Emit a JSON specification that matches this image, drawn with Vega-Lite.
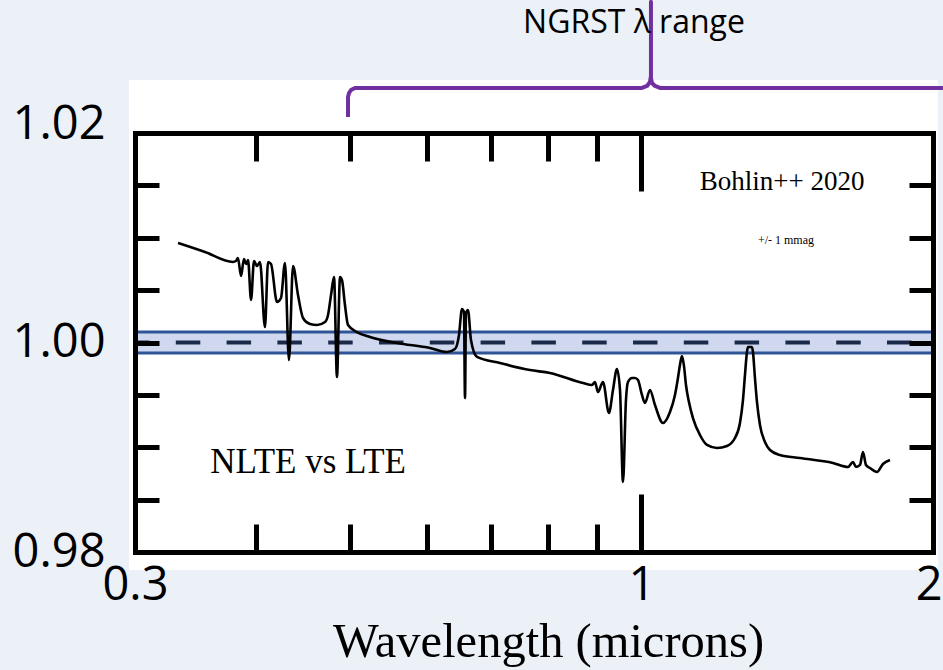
{
  "$schema": "https://vega.github.io/schema/vega-lite/v6.json",
  "width": 798,
  "height": 419,
  "autosize": {"type": "none"},
  "padding": {"left": 135, "top": 133, "right": 10, "bottom": 118},
  "background": "#ECF0F7",
  "config": {"view": {"stroke": null}},
  "datasets": {
    "spectrum": [
      {"wavelength": 0.3323, "ratio": 1.0095},
      {"wavelength": 0.3543, "ratio": 1.00864},
      {"wavelength": 0.3787, "ratio": 1.00769},
      {"wavelength": 0.3814, "ratio": 1.00778},
      {"wavelength": 0.3832, "ratio": 1.00807},
      {"wavelength": 0.386, "ratio": 1.00635},
      {"wavelength": 0.3887, "ratio": 1.00797},
      {"wavelength": 0.3906, "ratio": 1.00749},
      {"wavelength": 0.3925, "ratio": 1.00788},
      {"wavelength": 0.3953, "ratio": 1.00406},
      {"wavelength": 0.3981, "ratio": 1.00778},
      {"wavelength": 0.4009, "ratio": 1.0073},
      {"wavelength": 0.4038, "ratio": 1.00769},
      {"wavelength": 0.4086, "ratio": 1.00148},
      {"wavelength": 0.4116, "ratio": 1.00769},
      {"wavelength": 0.4145, "ratio": 1.00749},
      {"wavelength": 0.4205, "ratio": 1.00387},
      {"wavelength": 0.4245, "ratio": 1.00425},
      {"wavelength": 0.4285, "ratio": 1.00759},
      {"wavelength": 0.4326, "ratio": 0.99833},
      {"wavelength": 0.4368, "ratio": 1.0073},
      {"wavelength": 0.442, "ratio": 1.00453},
      {"wavelength": 0.4473, "ratio": 1.00234},
      {"wavelength": 0.4548, "ratio": 1.00177},
      {"wavelength": 0.4624, "ratio": 1.00167},
      {"wavelength": 0.4713, "ratio": 1.00196},
      {"wavelength": 0.4747, "ratio": 1.00263},
      {"wavelength": 0.4781, "ratio": 1.00453},
      {"wavelength": 0.4815, "ratio": 1.00625},
      {"wavelength": 0.4849, "ratio": 0.99671},
      {"wavelength": 0.4884, "ratio": 1.00625},
      {"wavelength": 0.4907, "ratio": 1.00597},
      {"wavelength": 0.4942, "ratio": 1.00358},
      {"wavelength": 0.4978, "ratio": 1.00167},
      {"wavelength": 0.5085, "ratio": 1.001},
      {"wavelength": 0.5245, "ratio": 1.00053},
      {"wavelength": 0.5593, "ratio": 0.99995},
      {"wavelength": 0.6049, "ratio": 0.99948},
      {"wavelength": 0.6298, "ratio": 0.99909},
      {"wavelength": 0.6419, "ratio": 0.99938},
      {"wavelength": 0.645, "ratio": 0.99976},
      {"wavelength": 0.6481, "ratio": 1.00072},
      {"wavelength": 0.6527, "ratio": 1.0032},
      {"wavelength": 0.6558, "ratio": 1.00291},
      {"wavelength": 0.6574, "ratio": 0.9947},
      {"wavelength": 0.659, "ratio": 1.00282},
      {"wavelength": 0.6621, "ratio": 1.0031},
      {"wavelength": 0.6668, "ratio": 1.00024},
      {"wavelength": 0.6764, "ratio": 0.99862},
      {"wavelength": 0.7144, "ratio": 0.99804},
      {"wavelength": 0.7672, "ratio": 0.99737},
      {"wavelength": 0.8046, "ratio": 0.99709},
      {"wavelength": 0.8703, "ratio": 0.99613},
      {"wavelength": 0.8891, "ratio": 0.99594},
      {"wavelength": 0.8954, "ratio": 0.99623},
      {"wavelength": 0.9018, "ratio": 0.99527},
      {"wavelength": 0.9126, "ratio": 0.99623},
      {"wavelength": 0.9257, "ratio": 0.99327},
      {"wavelength": 0.9346, "ratio": 0.99547},
      {"wavelength": 0.9435, "ratio": 0.99747},
      {"wavelength": 0.9503, "ratio": 0.99547},
      {"wavelength": 0.9571, "ratio": 0.98668},
      {"wavelength": 0.9639, "ratio": 0.99451},
      {"wavelength": 0.9685, "ratio": 0.99623},
      {"wavelength": 0.9778, "ratio": 0.99661},
      {"wavelength": 0.9848, "ratio": 0.99661},
      {"wavelength": 0.9918, "ratio": 0.99642},
      {"wavelength": 1.0013, "ratio": 0.99499},
      {"wavelength": 1.0084, "ratio": 0.99422},
      {"wavelength": 1.0205, "ratio": 0.99547},
      {"wavelength": 1.0327, "ratio": 0.99403},
      {"wavelength": 1.0525, "ratio": 0.99232},
      {"wavelength": 1.0702, "ratio": 0.99337},
      {"wavelength": 1.083, "ratio": 0.99499},
      {"wavelength": 1.0907, "ratio": 0.99661},
      {"wavelength": 1.0959, "ratio": 0.99785},
      {"wavelength": 1.1012, "ratio": 0.99871},
      {"wavelength": 1.1064, "ratio": 0.99777},
      {"wavelength": 1.1117, "ratio": 0.99594},
      {"wavelength": 1.1196, "ratio": 0.99432},
      {"wavelength": 1.1303, "ratio": 0.99279},
      {"wavelength": 1.1493, "ratio": 0.99117},
      {"wavelength": 1.1686, "ratio": 0.99022},
      {"wavelength": 1.1967, "ratio": 0.98993},
      {"wavelength": 1.2255, "ratio": 0.99012},
      {"wavelength": 1.249, "ratio": 0.99088},
      {"wavelength": 1.2639, "ratio": 0.99232},
      {"wavelength": 1.273, "ratio": 0.99451},
      {"wavelength": 1.2791, "ratio": 0.9969},
      {"wavelength": 1.2851, "ratio": 0.99909},
      {"wavelength": 1.2882, "ratio": 0.99957},
      {"wavelength": 1.3005, "ratio": 0.99957},
      {"wavelength": 1.3036, "ratio": 0.99909},
      {"wavelength": 1.3098, "ratio": 0.99661},
      {"wavelength": 1.3161, "ratio": 0.99432},
      {"wavelength": 1.3255, "ratio": 0.99212},
      {"wavelength": 1.3413, "ratio": 0.9905},
      {"wavelength": 1.3574, "ratio": 0.98974},
      {"wavelength": 1.39, "ratio": 0.98926},
      {"wavelength": 1.4577, "ratio": 0.98897},
      {"wavelength": 1.5767, "ratio": 0.9885},
      {"wavelength": 1.634, "ratio": 0.98812},
      {"wavelength": 1.6535, "ratio": 0.98859},
      {"wavelength": 1.6654, "ratio": 0.98812},
      {"wavelength": 1.6813, "ratio": 0.98831},
      {"wavelength": 1.6933, "ratio": 0.98955},
      {"wavelength": 1.7054, "ratio": 0.98831},
      {"wavelength": 1.7217, "ratio": 0.98802},
      {"wavelength": 1.7506, "ratio": 0.98764},
      {"wavelength": 1.7758, "ratio": 0.9884},
      {"wavelength": 1.8056, "ratio": 0.98878}
    ],
    "bracket": [
      {"step": 1, "wavelength": 0.4978, "level": 1.02153},
      {"step": 2, "wavelength": 0.4978, "level": 1.02344},
      {"step": 3, "wavelength": 0.499, "level": 1.02382},
      {"step": 4, "wavelength": 0.5013, "level": 1.0241},
      {"step": 5, "wavelength": 0.5061, "level": 1.0243},
      {"step": 6, "wavelength": 1.0013, "level": 1.0243},
      {"step": 7, "wavelength": 1.0133, "level": 1.02449},
      {"step": 8, "wavelength": 1.0205, "level": 1.02487},
      {"step": 9, "wavelength": 1.0229, "level": 1.02544},
      {"step": 10, "wavelength": 1.0229, "level": 1.03251},
      {"step": 11, "wavelength": 1.0229, "level": 1.02525},
      {"step": 12, "wavelength": 1.0254, "level": 1.02477},
      {"step": 13, "wavelength": 1.0327, "level": 1.02449},
      {"step": 14, "wavelength": 1.0449, "level": 1.0243},
      {"step": 15, "wavelength": 2.0479, "level": 1.0243}
    ]
  },
  "layer": [
    {
      "data": {"values": [{}]},
      "mark": {"type": "rect", "fill": "white"},
      "encoding": {
        "x": {"datum": 0.2957, "type": "quantitative", "scale": {"type": "log", "domain": [0.3, 2]}, "axis": null},
        "x2": {"datum": 2.0236},
        "y": {"datum": 0.97828, "type": "quantitative", "scale": {"domain": [0.98, 1.02], "zero": false, "nice": false}, "axis": null},
        "y2": {"datum": 1.02506}
      }
    },
    {
      "data": {"values": [{}]},
      "mark": {"type": "rect", "fill": "#CFD8EE", "stroke": "#2F5597", "strokeWidth": 3},
      "encoding": {
        "x": {
          "datum": 0.3, "type": "quantitative",
          "scale": {"type": "log", "domain": [0.3, 2]},
          "axis": {"orient": "bottom", "values": [0.4, 0.5, 0.6, 0.7, 0.8, 0.9], "tickSize": -28, "tickWidth": 5, "tickColor": "black", "labels": false, "title": null, "grid": false, "domain": true, "domainColor": "black", "domainWidth": 5, "domainCap": "square", "zindex": 1}
        },
        "x2": {"datum": 2},
        "y": {
          "datum": 0.999, "type": "quantitative",
          "scale": {"domain": [0.98, 1.02], "zero": false, "nice": false},
          "axis": {"orient": "left", "values": [0.985, 0.99, 0.995, 1, 1.005, 1.01, 1.015], "tickSize": -24, "tickWidth": 5, "tickColor": "black", "labels": false, "title": null, "grid": false, "domain": true, "domainColor": "black", "domainWidth": 5, "domainCap": "square", "zindex": 1}
        },
        "y2": {"datum": 1.001}
      }
    },
    {
      "data": {"values": [{}]},
      "mark": {"type": "rule", "stroke": "#1C2A4A", "strokeWidth": 4, "strokeDash": [24.5, 26.3], "strokeDashOffset": 10},
      "encoding": {
        "x": {
          "datum": 0.3, "type": "quantitative",
          "scale": {"type": "log", "domain": [0.3, 2]},
          "axis": {"orient": "top", "values": [0.4, 0.5, 0.6, 0.7, 0.8, 0.9], "tickSize": -28, "tickWidth": 5, "tickColor": "black", "labels": false, "title": null, "grid": false, "domain": true, "domainColor": "black", "domainWidth": 5, "domainCap": "square", "zindex": 1}
        },
        "x2": {"datum": 2},
        "y": {
          "datum": 1, "type": "quantitative",
          "scale": {"domain": [0.98, 1.02], "zero": false, "nice": false},
          "axis": {"orient": "right", "values": [0.985, 0.99, 0.995, 1, 1.005, 1.01, 1.015], "tickSize": -24, "tickWidth": 5, "tickColor": "black", "labels": false, "title": null, "grid": false, "domain": true, "domainColor": "black", "domainWidth": 5, "domainCap": "square", "zindex": 1}
        }
      }
    },
    {
      "data": {"name": "spectrum"},
      "mark": {"type": "line", "color": "black", "strokeWidth": 2.6, "strokeJoin": "round", "interpolate": "monotone"},
      "encoding": {
        "x": {
          "field": "wavelength", "type": "quantitative",
          "scale": {"type": "log", "domain": [0.3, 2]},
          "axis": {"orient": "bottom", "values": [0.3, 1, 2], "format": "~g", "ticks": false, "tickSize": 0, "domain": false, "grid": false, "labelFont": "Open Sans", "labelFontSize": 47, "labelColor": "black", "labelPadding": 10, "labelBaseline": "top", "labelAlign": {"condition": {"test": "datum.value == 2", "value": "right"}, "value": "center"}, "labelOffset": {"condition": {"test": "datum.value == 2", "value": 9}, "value": 0}, "labelFlush": false, "labelOverlap": false, "title": "Wavelength (microns)", "titleFont": "Liberation Serif", "titleFontSize": 48.5, "titleFontWeight": "normal", "titleColor": "black", "titleX": 413, "titleY": 104, "titleAlign": "center", "titleBaseline": "alphabetic", "zindex": 1}
        },
        "y": {
          "field": "ratio", "type": "quantitative",
          "scale": {"domain": [0.98, 1.02], "zero": false, "nice": false},
          "axis": {"orient": "left", "values": [0.98, 1, 1.02], "format": ".2f", "ticks": false, "tickSize": 0, "domain": false, "grid": false, "labelFont": "Open Sans", "labelFontSize": 47, "labelColor": "black", "labelPadding": 30, "labelBaseline": "middle", "labelOffset": {"condition": {"test": "datum.value > 1.01", "value": -9}, "value": 0}, "labelFlush": false, "labelOverlap": false, "title": null, "zindex": 1}
        }
      }
    },
    {
      "data": {"name": "bracket"},
      "mark": {"type": "line", "color": "#7030A0", "strokeWidth": 4, "strokeJoin": "round"},
      "encoding": {
        "x": {
          "field": "wavelength", "type": "quantitative",
          "scale": {"type": "log", "domain": [0.3, 2]},
          "axis": {"orient": "bottom", "values": [1], "tickSize": -58, "tickWidth": 5, "tickColor": "black", "labels": false, "domain": false, "grid": false, "title": null, "zindex": 1}
        },
        "y": {"field": "level", "type": "quantitative", "scale": {"domain": [0.98, 1.02], "zero": false, "nice": false}, "axis": null},
        "order": {"field": "step", "type": "quantitative"}
      }
    },
    {
      "data": {"values": [{}]},
      "mark": {"type": "text", "text": "NGRST λ range", "font": "Open Sans", "fontSize": 32, "color": "black", "align": "center", "baseline": "alphabetic"},
      "encoding": {
        "x": {
          "datum": 0.9824, "type": "quantitative",
          "scale": {"type": "log", "domain": [0.3, 2]},
          "axis": {"orient": "top", "values": [1], "tickSize": -58, "tickWidth": 5, "tickColor": "black", "labels": false, "domain": false, "grid": false, "title": null, "zindex": 1}
        },
        "y": {"datum": 1.02955, "type": "quantitative", "scale": {"domain": [0.98, 1.02], "zero": false, "nice": false}, "axis": null}
      }
    },
    {
      "data": {"values": [{}]},
      "mark": {"type": "text", "text": "Bohlin++ 2020", "font": "Liberation Serif", "fontSize": 27, "color": "black", "align": "center", "baseline": "alphabetic"},
      "encoding": {
        "x": {"datum": 1.397, "type": "quantitative", "scale": {"type": "log", "domain": [0.3, 2]}, "axis": null},
        "y": {"datum": 1.01456, "type": "quantitative", "scale": {"domain": [0.98, 1.02], "zero": false, "nice": false}, "axis": null}
      }
    },
    {
      "data": {"values": [{}]},
      "mark": {"type": "text", "text": "+/- 1 mmag", "font": "Liberation Serif", "fontSize": 12, "color": "black", "align": "center", "baseline": "alphabetic"},
      "encoding": {
        "x": {"datum": 1.41, "type": "quantitative", "scale": {"type": "log", "domain": [0.3, 2]}, "axis": null},
        "y": {"datum": 1.0094, "type": "quantitative", "scale": {"domain": [0.98, 1.02], "zero": false, "nice": false}, "axis": null}
      }
    },
    {
      "data": {"values": [{}]},
      "mark": {"type": "text", "text": "NLTE vs LTE", "font": "Liberation Serif", "fontSize": 35, "color": "black", "align": "center", "baseline": "alphabetic"},
      "encoding": {
        "x": {"datum": 0.4527, "type": "quantitative", "scale": {"type": "log", "domain": [0.3, 2]}, "axis": null},
        "y": {"datum": 0.98754, "type": "quantitative", "scale": {"domain": [0.98, 1.02], "zero": false, "nice": false}, "axis": null}
      }
    }
  ],
  "resolve": {"axis": {"x": "independent", "y": "independent"}}
}
